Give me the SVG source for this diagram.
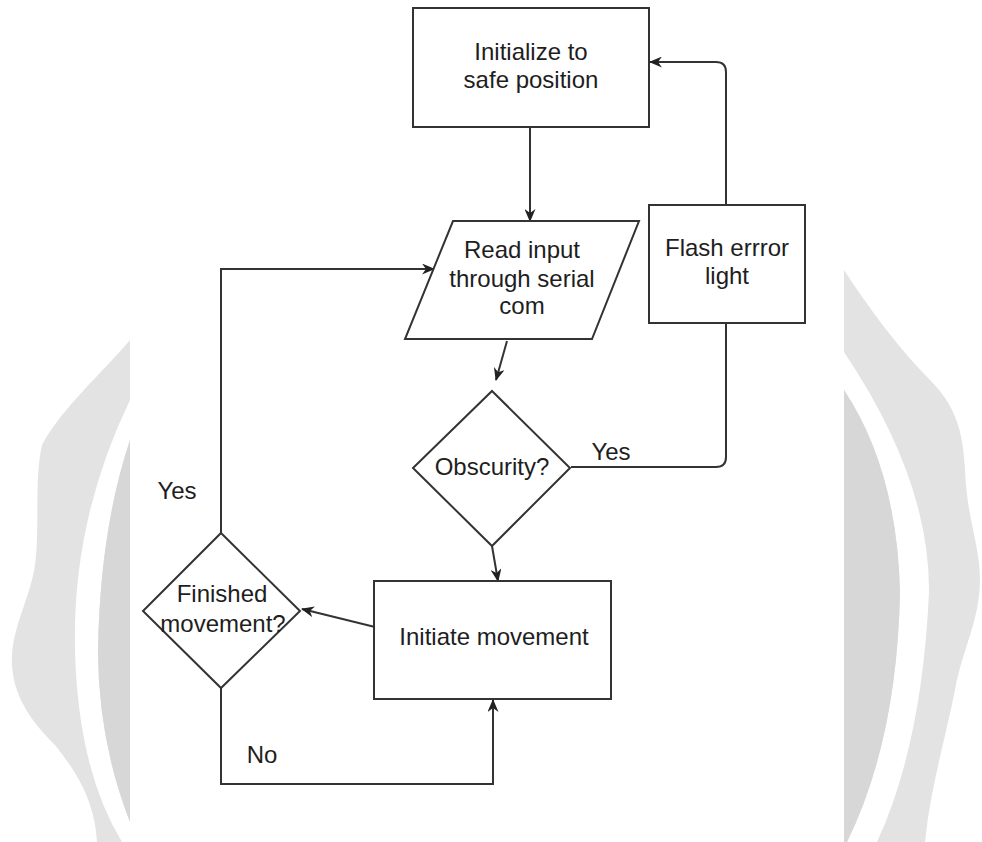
<svg xmlns="http://www.w3.org/2000/svg" width="982" height="842" viewBox="0 0 982 842">
<defs>
<style>
.shape{fill:#ffffff;stroke:#333333;stroke-width:2}
.edge{fill:none;stroke:#333333;stroke-width:2}
.t{font-family:"Liberation Sans",Arial,sans-serif;font-size:24px;fill:#1e1e1e;text-anchor:middle}
.wm1{fill:#e3e3e3}
.wm2{fill:#d7d7d7}
</style>
<marker id="arr" viewBox="0 0 13 11" refX="12" refY="5.5" markerWidth="13" markerHeight="11" orient="auto" markerUnits="userSpaceOnUse">
<path d="M0,0 L13,5.5 L0,11 L4,5.5 Z" fill="#222222"/>
</marker>
</defs>
<rect x="0" y="0" width="982" height="842" fill="#ffffff"/>
<g id="watermark">
<path class="wm1" d="M130,340 C105,370 60,410 42,445 C34,480 40,530 35,565 C30,600 10,630 12,665 C14,700 35,725 55,745 C75,770 95,800 97,842 L130,842 Z"/>
<path fill="#ffffff" d="M130,400 Q72,520 75,650 Q78,770 122,842 L130,842 L130,822 Q98,740 98,650 Q100,530 130,440 Z"/>
<path class="wm2" d="M130,440 Q100,530 98,650 Q98,740 130,822 Z"/>
<path class="wm1" d="M844,270 C870,310 900,350 930,380 C955,405 963,430 965,470 C967,520 980,545 980,580 C980,620 962,650 955,690 C945,740 930,790 925,842 L844,842 Z"/>
<path fill="#ffffff" d="M844,352 Q930,480 929,592 Q922,745 877,842 L847,842 Q897,740 900,592 Q897,470 844,390 Z"/>
<path class="wm2" d="M844,390 Q897,470 900,592 Q897,740 847,842 L844,842 Z"/>
</g>
<g id="connectors">
<path class="edge" d="M530,127 L530,221" marker-end="url(#arr)"/>
<path class="edge" d="M507,341 L496,380" marker-end="url(#arr)"/>
<path class="edge" d="M492,546 L498,581" marker-end="url(#arr)"/>
<path class="edge" d="M571,467 L716,467 Q726,467 726,457 L726,323"/>
<path class="edge" d="M726,205 L726,72 Q726,62 716,62 L650,62" marker-end="url(#arr)"/>
<path class="edge" d="M375,627 L302,609" marker-end="url(#arr)"/>
<path class="edge" d="M221,533 L221,269 L434,269" marker-end="url(#arr)"/>
<path class="edge" d="M221,688 L221,784 L493,784 L493,700" marker-end="url(#arr)"/>
<text class="t" x="611" y="460">Yes</text>
<text class="t" x="177" y="499">Yes</text>
<text class="t" x="262" y="763">No</text>
</g>
<g id="init">
<rect class="shape" x="413" y="8" width="236" height="119"/>
<text class="t" x="531" y="60">Initialize to</text>
<text class="t" x="531" y="88">safe position</text>
</g>
<g id="read">
<polygon class="shape" points="453,221 639,221 592,339 405,339"/>
<text class="t" x="522" y="258">Read input</text>
<text class="t" x="522" y="287">through serial</text>
<text class="t" x="522" y="314">com</text>
</g>
<g id="flash">
<rect class="shape" x="649" y="205" width="156" height="118"/>
<text class="t" x="727" y="256">Flash errror</text>
<text class="t" x="727" y="284">light</text>
</g>
<g id="obscurity">
<polygon class="shape" points="492,391 570,468 492,546 413,468"/>
<text class="t" x="492" y="475">Obscurity?</text>
</g>
<g id="initiate">
<rect class="shape" x="374" y="581" width="237" height="118"/>
<text class="t" x="494" y="645">Initiate movement</text>
</g>
<g id="finished">
<polygon class="shape" points="221,533 300,611 221,688 143,611"/>
<text class="t" x="222" y="602">Finished</text>
<text class="t" x="223" y="632">movement?</text>
</g>
</svg>
